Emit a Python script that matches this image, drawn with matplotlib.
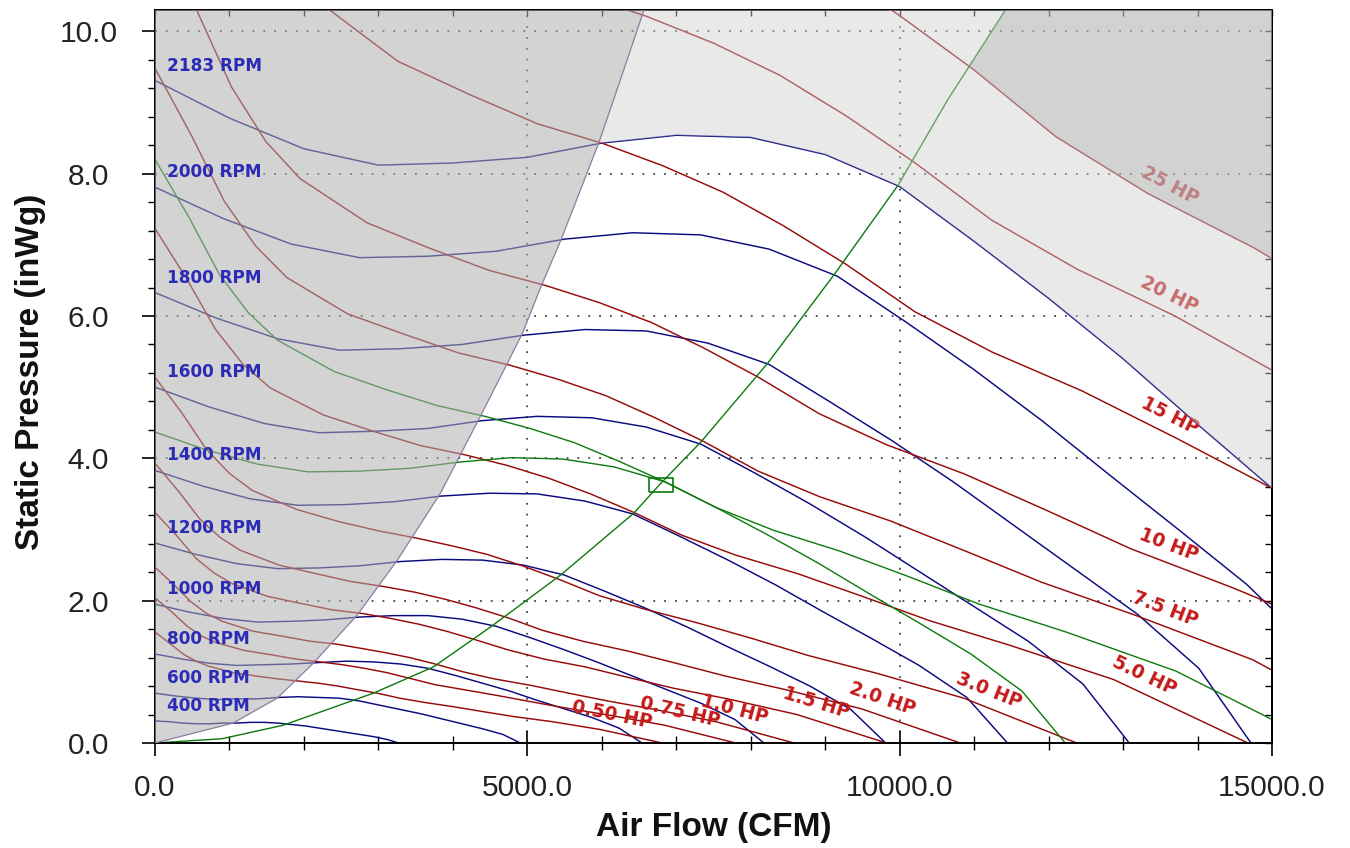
import numpy as np
import matplotlib
matplotlib.use('Agg')
from matplotlib import pyplot as plt
from matplotlib.patches import Polygon
from matplotlib.ticker import MultipleLocator, FormatStrFormatter, NullFormatter

# Fan curves: air flow (CFM) and static pressure (inWg).
cfm_2183 = [0, 1000, 2000, 3000, 4000, 5000, 6000, 7000, 8000, 9000, 10000,
            11000, 12000, 13000, 14000, 15000, 16000]
sp_2183 = [9.31, 8.78, 8.35, 8.12, 8.15, 8.23, 8.43, 8.54, 8.51, 8.27, 7.82,
           7.05, 6.25, 5.40, 4.48, 3.58, 2.66]
cfm_2000 = [0, 916, 1832, 2749, 3665, 4581, 5497, 6413, 7329, 8246, 9162,
            10078, 10994, 11910, 12826, 13743, 14659, 15575]
sp_2000 = [7.81, 7.37, 7.01, 6.82, 6.84, 6.91, 7.08, 7.17, 7.14, 6.94, 6.56,
           5.92, 5.25, 4.53, 3.76, 3.00, 2.23, 1.30]
cfm_1800 = [0, 825, 1649, 2474, 3298, 4123, 4947, 5772, 6596, 7421, 8246,
            9070, 9895, 10719, 11544, 12368, 13193, 14017, 14718]
sp_1800 = [6.33, 5.97, 5.68, 5.52, 5.54, 5.60, 5.73, 5.81, 5.79, 5.62, 5.32,
           4.79, 4.25, 3.67, 3.05, 2.43, 1.81, 1.05, 0.0]
cfm_1600 = [0, 733, 1466, 2199, 2932, 3665, 4398, 5131, 5864, 6596, 7329,
            8062, 8795, 9528, 10261, 10994, 11727, 12460, 13083]
sp_1600 = [5.00, 4.72, 4.49, 4.36, 4.38, 4.42, 4.53, 4.59, 4.57, 4.44, 4.20,
           3.79, 3.36, 2.90, 2.41, 1.92, 1.43, 0.83, 0.0]
cfm_1400 = [0, 641, 1283, 1924, 2565, 3207, 3848, 4489, 5131, 5772, 6413,
            7055, 7696, 8337, 8978, 9620, 10261, 10902, 11448]
sp_1400 = [3.83, 3.61, 3.43, 3.34, 3.35, 3.39, 3.47, 3.51, 3.50, 3.40, 3.22,
           2.90, 2.57, 2.22, 1.84, 1.47, 1.09, 0.64, 0.0]
cfm_1200 = [0, 550, 1099, 1649, 2199, 2749, 3298, 3848, 4398, 4947, 5497,
            6047, 6596, 7146, 7696, 8246, 8795, 9345, 9812]
sp_1200 = [2.81, 2.65, 2.52, 2.45, 2.46, 2.49, 2.55, 2.58, 2.57, 2.50, 2.36,
           2.13, 1.89, 1.63, 1.35, 1.08, 0.80, 0.47, 0.0]
cfm_1000 = [0, 458, 916, 1374, 1832, 2290, 2749, 3207, 3665, 4123, 4581,
            5039, 5497, 5955, 6413, 6871, 7329, 7788, 8177]
sp_1000 = [1.95, 1.84, 1.75, 1.70, 1.71, 1.73, 1.77, 1.79, 1.79, 1.74, 1.64,
           1.48, 1.31, 1.13, 0.94, 0.75, 0.56, 0.33, 0.0]
cfm_800 = [0, 366, 733, 1099, 1466, 1832, 2199, 2565, 2932, 3298, 3665,
           4031, 4398, 4764, 5131, 5497, 5863, 6230, 6541]
sp_800 = [1.25, 1.18, 1.12, 1.09, 1.10, 1.11, 1.13, 1.15, 1.14, 1.11, 1.05,
          0.95, 0.84, 0.73, 0.60, 0.48, 0.36, 0.21, 0.0]
cfm_600 = [0, 275, 550, 825, 1099, 1374, 1649, 1924, 2199, 2474, 2749,
           3023, 3298, 3573, 3848, 4123, 4398, 4672, 4906]
sp_600 = [0.70, 0.66, 0.63, 0.61, 0.62, 0.62, 0.64, 0.65, 0.64, 0.63, 0.59,
          0.53, 0.47, 0.41, 0.34, 0.27, 0.20, 0.12, 0.0]
cfm_400 = [0, 183, 366, 550, 733, 916, 1099, 1283, 1466, 1649, 1832,
           2016, 2199, 2382, 2565, 2749, 2932, 3115, 3271]
sp_400 = [0.31, 0.30, 0.28, 0.27, 0.27, 0.28, 0.28, 0.29, 0.29, 0.28, 0.26,
          0.24, 0.21, 0.18, 0.15, 0.12, 0.09, 0.05, 0.0]

# operating speed curve (green, unlabelled)
cfm_op_rpm = [0, 685, 1370, 2055, 2739, 3424, 4109, 4794, 5479, 6164, 6848,
              7533, 8218, 8903, 9588, 10273, 10957, 11642, 12224]
sp_op_rpm = [4.37, 4.12, 3.92, 3.81, 3.82, 3.86, 3.95, 4.01, 3.99, 3.88, 3.67,
             3.31, 2.93, 2.53, 2.10, 1.68, 1.25, 0.73, 0.0]

# constant horsepower lines
hp050_cfm = [0, 198, 378, 549, 718, 1049, 1361, 1654, 1931, 2196, 2455, 2715,
             2985, 3284, 3620, 4005, 4410, 4827, 5333, 5977, 6812]
hp050_sp = [1.56, 1.40, 1.25, 1.15, 1.08, 0.99, 0.94, 0.90, 0.87, 0.84, 0.80,
            0.75, 0.70, 0.63, 0.57, 0.51, 0.44, 0.37, 0.30, 0.19, 0.0]
hp075_cfm = [0, 227, 433, 628, 822, 1201, 1558, 1893, 2210, 2514, 2810, 3108,
             3417, 3759, 4144, 4585, 5048, 5525, 6105, 6842, 7798]
hp075_sp = [2.04, 1.84, 1.64, 1.50, 1.41, 1.30, 1.24, 1.18, 1.14, 1.10, 1.05,
            0.99, 0.91, 0.82, 0.75, 0.67, 0.58, 0.49, 0.39, 0.25, 0.0]
hp100_cfm = [0, 249, 476, 692, 905, 1322, 1715, 2084, 2433, 2767, 3093, 3421,
             3761, 4138, 4561, 5046, 5556, 6082, 6719, 7531, 8582]
hp100_sp = [2.47, 2.23, 1.99, 1.82, 1.71, 1.57, 1.50, 1.43, 1.39, 1.33, 1.27,
            1.20, 1.11, 1.00, 0.90, 0.81, 0.70, 0.59, 0.47, 0.30, 0.0]
hp150_cfm = [0, 286, 545, 792, 1036, 1513, 1963, 2385, 2785, 3167, 3541, 3916,
             4305, 4736, 5221, 5776, 6360, 6962, 7691, 8620, 9824]
hp150_sp = [3.24, 2.92, 2.60, 2.39, 2.24, 2.06, 1.96, 1.87, 1.82, 1.75, 1.67,
            1.57, 1.45, 1.31, 1.18, 1.07, 0.92, 0.77, 0.62, 0.40, 0.0]
hp200_cfm = [0, 314, 600, 872, 1140, 1665, 2161, 2626, 3065, 3486, 3897, 4310,
             4738, 5213, 5746, 6358, 7000, 7662, 8466, 9488, 10813]
hp200_sp = [3.93, 3.54, 3.15, 2.89, 2.71, 2.50, 2.38, 2.27, 2.20, 2.12, 2.02,
            1.90, 1.76, 1.58, 1.43, 1.29, 1.12, 0.94, 0.75, 0.48, 0.0]
hp300_cfm = [0, 360, 687, 998, 1305, 1906, 2473, 3006, 3509, 3990, 4461, 4933,
             5424, 5967, 6578, 7278, 8013, 8771, 9691, 10861, 12378]
hp300_sp = [5.14, 4.64, 4.13, 3.79, 3.55, 3.28, 3.11, 2.98, 2.88, 2.77, 2.65,
            2.49, 2.30, 2.07, 1.88, 1.69, 1.47, 1.23, 0.98, 0.63, 0.0]
hp500_cfm = [0, 427, 814, 1183, 1547, 2260, 2932, 3563, 4160, 4731, 5289, 5849,
             6431, 7075, 7799, 8628, 9501, 10399, 11489, 12877, 14676]
hp500_sp = [7.23, 6.52, 5.81, 5.32, 4.99, 4.61, 4.38, 4.18, 4.05, 3.90, 3.72,
            3.50, 3.24, 2.92, 2.64, 2.38, 2.06, 1.72, 1.37, 0.89, 0.0]
hp750_cfm = [0, 488, 932, 1354, 1771, 2587, 3357, 4079, 4762, 5416, 6055, 6696,
             7362, 8099, 8928, 9877, 10876, 11904, 13152, 14741, 16800]
hp750_sp = [9.48, 8.54, 7.61, 6.98, 6.54, 6.03, 5.74, 5.48, 5.31, 5.11, 4.88,
            4.58, 4.24, 3.82, 3.46, 3.12, 2.70, 2.26, 1.80, 1.17, 0.0]
hp10_cfm = [0, 538, 1026, 1490, 1949, 2847, 3694, 4490, 5242, 5961, 6664, 7370,
            8103, 8914, 9826, 10871, 11971, 13102, 14476, 16224]
hp10_sp = [11.48, 10.35, 9.22, 8.45, 7.93, 7.31, 6.95, 6.64, 6.43, 6.19, 5.91,
           5.55, 5.14, 4.63, 4.19, 3.78, 3.27, 2.73, 2.18, 1.42]
hp15_cfm = [615, 1175, 1706, 2231, 3260, 4229, 5139, 6000, 6823, 7628, 8436,
            9275, 10204, 11248, 12444, 13703, 14999, 16571]
hp15_sp = [13.56, 12.08, 11.07, 10.39, 9.58, 9.11, 8.70, 8.43, 8.11, 7.74, 7.27,
           6.73, 6.06, 5.49, 4.95, 4.29, 3.58, 2.86]
hp20_cfm = [4655, 5657, 6604, 7510, 8396, 9285, 10209, 11231, 12380, 13697, 15082]
hp20_sp = [11.03, 10.54, 10.21, 9.83, 9.38, 8.81, 8.15, 7.35, 6.66, 6.00, 5.19]
hp25_cfm = [7114, 8090, 9044, 10002, 10997, 12098, 13336, 14754, 16246]
hp25_sp = [11.85, 11.40, 10.89, 10.22, 9.46, 8.52, 7.72, 6.96, 6.03]

# horsepower at the operating point (green)
hp_op_cfm = [0, 454, 867, 1259, 1647, 2406, 3122, 3794, 4430, 5037, 5632, 6228,
             6847, 7533, 8304, 9187, 10116, 11073, 12233, 13711, 15626]
hp_op_sp = [8.20, 7.39, 6.58, 6.04, 5.66, 5.22, 4.96, 4.74, 4.59, 4.42, 4.22,
            3.96, 3.67, 3.31, 2.99, 2.70, 2.34, 1.95, 1.56, 1.01, 0.0]

# system curve (green) and operating point
system_cfm = [0, 900, 1722, 2932, 3740, 4506, 5447, 6430, 6793, 7331, 8230,
              9133, 9980, 10640, 11420]
system_sp = [0, 0.06, 0.25, 0.70, 1.07, 1.63, 2.36, 3.23, 3.65, 4.23, 5.34,
             6.60, 7.84, 9.03, 10.30]
op_cfm = 6793
op_sp = 3.62

# stall limit (left edge of the usable area)
stall_cfm = [0, 1049, 1641, 2125, 2717, 3255, 3833, 4344, 4734, 4936, 5178,
             5460, 5958, 6214, 6550, 6600]
stall_sp = [0, 0.28, 0.63, 1.12, 1.80, 2.57, 3.51, 4.54, 5.34, 5.76, 6.40,
            7.09, 8.43, 9.21, 10.25, 10.42]

fan_curves = [('2183 RPM', cfm_2183, sp_2183), ('2000 RPM', cfm_2000, sp_2000),
              ('1800 RPM', cfm_1800, sp_1800), ('1600 RPM', cfm_1600, sp_1600),
              ('1400 RPM', cfm_1400, sp_1400), ('1200 RPM', cfm_1200, sp_1200),
              ('1000 RPM', cfm_1000, sp_1000), ('800 RPM', cfm_800, sp_800),
              ('600 RPM', cfm_600, sp_600), ('400 RPM', cfm_400, sp_400)]
hp_curves = [('0.50 HP', hp050_cfm, hp050_sp), ('0.75 HP', hp075_cfm, hp075_sp),
             ('1.0 HP', hp100_cfm, hp100_sp), ('1.5 HP', hp150_cfm, hp150_sp),
             ('2.0 HP', hp200_cfm, hp200_sp), ('3.0 HP', hp300_cfm, hp300_sp),
             ('5.0 HP', hp500_cfm, hp500_sp), ('7.5 HP', hp750_cfm, hp750_sp),
             ('10 HP', hp10_cfm, hp10_sp), ('15 HP', hp15_cfm, hp15_sp),
             ('20 HP', hp20_cfm, hp20_sp), ('25 HP', hp25_cfm, hp25_sp)]
# where along each HP line its label sits (CFM)
hp_label_at = [6093, 6994, 7730, 8810, 9690, 11120, 13195, 13490, 13530,
               13530, 13520, 13520]

NAVY = '#0a0a80'
MAROON = '#960a0a'
GREEN = '#0c7a0c'
Y_TOP = 10.3

fig = plt.figure(figsize=(13.5, 8.48), dpi=100)
ax = fig.add_axes([155 / 1350, 105 / 848, 1117 / 1350, 733 / 848])
ax.set_xlim(0, 15000)
ax.set_ylim(0, Y_TOP)

# Curves.
for name, cfm, sp in fan_curves:
    ax.plot(cfm, sp, color=NAVY, lw=1.05, zorder=2)
ax.plot(cfm_op_rpm, sp_op_rpm, color=GREEN, lw=1.0, zorder=2.2)
for name, cfm, sp in hp_curves:
    ax.plot(cfm, sp, color=MAROON, lw=1.05, zorder=2)
ax.plot(hp_op_cfm, hp_op_sp, color=GREEN, lw=1.0, zorder=2.2)
ax.plot(system_cfm, system_sp, color=GREEN, lw=1.0, zorder=2.2)

# Shaded regions (semi-transparent, on top of the curves).
stall_pts = list(zip(stall_cfm, stall_sp))
ax.add_patch(Polygon(stall_pts + [(0, stall_sp[-1])], closed=True,
                     facecolor='#b0b0b0', alpha=0.55, edgecolor='none', zorder=3))
right_of_stall = Polygon(stall_pts + [(16000, stall_sp[-1]), (16000, -1), (0, -1)],
                         closed=True, transform=ax.transData)
light = ax.fill_between(cfm_2183, sp_2183, Y_TOP, facecolor='#d0d0d0',
                        alpha=0.45, lw=0, zorder=3)
light.set_clip_path(right_of_stall)
right_of_system = Polygon(list(zip(system_cfm, system_sp)) +
                          [(system_cfm[-1], 11), (16000, 11), (16000, -1)],
                          closed=True, transform=ax.transData)
over_hp = ax.fill_between(hp25_cfm, hp25_sp, Y_TOP, facecolor='#a8a8a8',
                          alpha=0.35, lw=0, zorder=3.1)
over_hp.set_clip_path(right_of_system)
ax.plot(stall_cfm, stall_sp, color='#8c7ca0', lw=0.9, zorder=3.2)

# Operating point box.
box = [(-1.6, -1), (1.6, -1), (1.6, 1), (-1.6, 1), (-1.6, -1)]
ax.plot([op_cfm], [op_sp], marker=box, ms=17, mfc='none', mec=GREEN,
        mew=1.2, zorder=4)

# RPM labels.
for name, cfm, sp in fan_curves:
    ax.text(160, sp[0] + 0.21, name, color='#2b2bb8', fontsize=12.2,
            fontweight='bold', family='DejaVu Sans', ha='left', va='center',
            zorder=5)

# HP labels, rotated along their lines.
for (name, cfm, sp), at in zip(hp_curves, hp_label_at):
    y = np.interp(at, cfm, sp)
    p0 = ax.transData.transform((at - 250, np.interp(at - 250, cfm, sp)))
    p1 = ax.transData.transform((at + 250, np.interp(at + 250, cfm, sp)))
    ang = np.degrees(np.arctan2(p1[1] - p0[1], p1[0] - p0[0]))
    d = 12
    off = (-np.sin(np.radians(ang)) * d, np.cos(np.radians(ang)) * d)
    ax.annotate(name, (at, y), xytext=off, textcoords='offset points',
                rotation=ang, rotation_mode='anchor', ha='center', va='center',
                color='#c41a1a', fontsize=13.4, fontweight='bold',
                family='DejaVu Sans', zorder=2.5)

# Axes formatting.
ax.set_axisbelow(True)
ax.grid(True, which='major', linestyle=(0, (1, 5)), color='#444444', lw=1.3)
ax.xaxis.set_major_locator(MultipleLocator(5000))
ax.xaxis.set_minor_locator(MultipleLocator(1000))
ax.yaxis.set_major_locator(MultipleLocator(2))
ax.yaxis.set_minor_locator(MultipleLocator(0.4))
ax.xaxis.set_major_formatter(FormatStrFormatter('%.1f'))
ax.yaxis.set_major_formatter(FormatStrFormatter('%.1f'))
ax.tick_params(axis='x', which='major', direction='inout', length=18, width=1.2,
               pad=13, labelsize=21.5, labelcolor='#222222')
ax.tick_params(axis='x', which='minor', direction='inout', length=10, width=1.0)
ax.tick_params(axis='y', which='major', direction='out', length=9.4, width=1.2,
               pad=38.5, labelsize=21.5, labelcolor='#222222')
ax.tick_params(axis='y', which='minor', direction='out', length=5, width=1.0)
for lab in ax.get_xticklabels() + ax.get_yticklabels():
    lab.set_family('Liberation Sans')
for lab in ax.get_yticklabels():
    lab.set_ha('center')
for sp_ in ax.spines.values():
    sp_.set_linewidth(1.4)

secx = ax.secondary_xaxis('top')
secx.set_xticks(np.arange(0, 15001, 1000))
secx.tick_params(direction='in', length=4.5, width=1.0)
secx.xaxis.set_major_formatter(NullFormatter())
secx.spines['top'].set_linewidth(1.4)
secy = ax.secondary_yaxis('right')
secy.set_yticks(np.arange(0, 10.3, 0.4))
secy.tick_params(direction='in', length=5, width=1.0)
secy.yaxis.set_major_formatter(NullFormatter())
secy.spines['right'].set_linewidth(1.4)

ax.set_xlabel('Air Flow (CFM)', fontsize=24, fontweight='bold',
              family='Liberation Sans', color='#111111')
ax.xaxis.set_label_coords(0.5, -0.1146)
ax.xaxis.label.set_va('center')
ax.set_ylabel('Static Pressure (inWg)', fontsize=24, fontweight='bold',
              family='Liberation Sans', color='#111111')
ax.yaxis.set_label_coords(-0.1119, 0.506)
ax.yaxis.label.set_va('center')

fig.savefig('out.png', dpi=100)
